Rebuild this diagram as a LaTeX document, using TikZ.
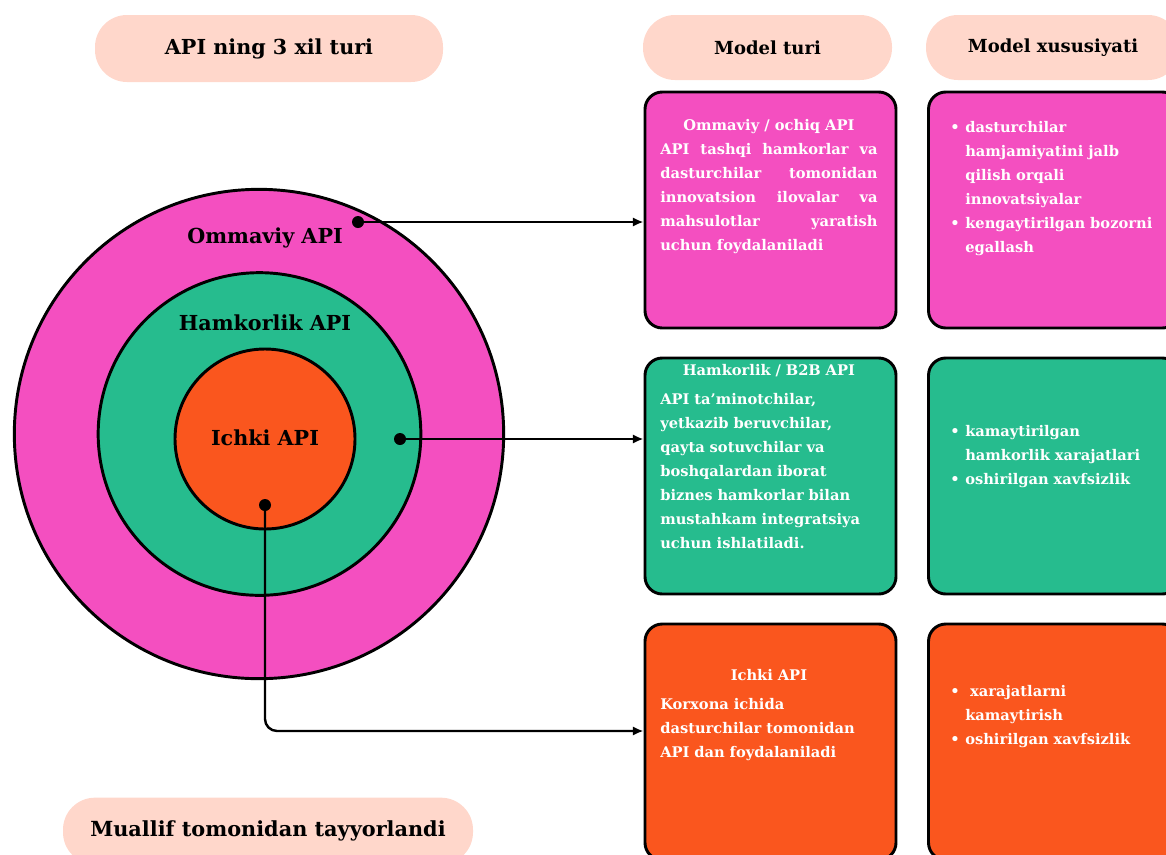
\documentclass[tikz,border=0pt]{standalone}
\usepackage{fontspec}
\setmainfont{DejaVu Serif}
\usepackage{color}
\usetikzlibrary{arrows.meta}
\setlength{\parindent}{0pt}

\definecolor{pinkapi}{HTML}{F44FC0}
\definecolor{greenapi}{HTML}{26BC8E}
\definecolor{orangeapi}{HTML}{FA561E}
\definecolor{pillbg}{HTML}{FFD7CB}

% one bullet line with hanging indent
\newcommand{\bulletline}[1]{\par\hangindent=11.25pt\hangafter=1\makebox[11.25pt][l]{\textbullet}#1\par}

\begin{document}
\begin{tikzpicture}[x=0.75pt,y=-0.75pt,
  pill/.style={fill=pillbg, rounded corners=24pt, font=\bfseries},
  card/.style={draw=black, line width=2.2pt, rounded corners=13pt, minimum width=188.25pt, minimum height=177pt},
  ring/.style={circle, draw=black, line width=2.2pt},
  ringlabel/.style={font=\bfseries\fontsize{15.5}{18}\selectfont},
  cardtext/.style={text=white, inner sep=0pt, anchor=north west, font=\bfseries\fontsize{11}{18}\selectfont},
  dot/.style={circle, fill=black, inner sep=0pt, minimum size=9pt},
  link/.style={line width=1.8pt, -{Latex[length=8pt,width=7pt]}}]
\useasboundingbox (0,0) rectangle (1166,854);
\clip (0,0) rectangle (1166,854);

% headers
\node[pill, minimum width=261pt, minimum height=50.25pt, font=\bfseries\fontsize{15.5}{18}\selectfont] (title) at (269,48.5) {API ning 3 xil turi};
\node[pill, minimum width=186.75pt, minimum height=48.75pt, font=\bfseries\fontsize{13.5}{15}\selectfont] (headType) at (767.5,47.5) {Model turi};
\node[pill, minimum width=190.5pt, minimum height=48.75pt, font=\bfseries\fontsize{13.5}{15}\selectfont] (headProp) at (1053,47.5) {Model xususiyati};
\node[pill, minimum width=307.5pt, minimum height=50pt, font=\bfseries\fontsize{15.6}{18}\selectfont] (author) at (268,831) {Muallif tomonidan tayyorlandi};

% circles
\node[ring, fill=pinkapi, minimum size=367pt] (outer) at (259,434) {};
\node[ring, fill=greenapi, minimum size=242pt] (middle) at (259.5,434) {};
\node[ring, fill=orangeapi, minimum size=135pt] (inner) at (265,439) {};
\node[ringlabel] (lblOuter) at (265,238) {Ommaviy API};
\node[ringlabel] (lblMiddle) at (265,323) {Hamkorlik API};
\node[ringlabel] (lblInner) at (265,438) {Ichki API};

% cards
\node[card, fill=pinkapi] (cardA) at (770.5,210) {};
\node[card, fill=greenapi] (cardB) at (770.5,476) {};
\node[card, fill=orangeapi] (cardC) at (770.5,742) {};
\node[card, fill=pinkapi] (propA) at (1054,210) {};
\node[card, fill=greenapi] (propB) at (1054,476) {};
\node[card, fill=orangeapi] (propC) at (1054,742) {};

\node[cardtext, text width=163pt, align=justify] (txtA) at (660,119) {{\centering Ommaviy / ochiq API\par}
API tashqi hamkorlar va\linebreak dasturchilar tomonidan\linebreak innovatsion ilovalar va\linebreak mahsulotlar yaratish\linebreak uchun foydalaniladi\par};
\node[cardtext, text width=163pt] (txtB) at (660,364) {{\centering Hamkorlik / B2B API\par}\vspace{4pt}
\raggedright API ta’minotchilar,\newline yetkazib beruvchilar,\newline qayta sotuvchilar va\newline boshqalardan iborat\newline biznes hamkorlar bilan\newline mustahkam integratsiya\newline uchun ishlatiladi.};
\node[cardtext, text width=163pt] (txtC) at (660,669) {{\centering Ichki API\par}\vspace{4pt}
\raggedright Korxona ichida\newline dasturchilar tomonidan\newline API dan foydalaniladi};

\node[cardtext, text width=165pt] (featA) at (950,108) {\raggedright\bulletline{dasturchilar\newline hamjamiyatini jalb\newline qilish orqali\newline innovatsiyalar}
\bulletline{kengaytirilgan bozorni\newline egallash}};
\node[cardtext, text width=165pt] (featB) at (950,412) {\raggedright\bulletline{kamaytirilgan\newline hamkorlik xarajatlari}
\bulletline{oshirilgan xavfsizlik}};
\node[cardtext, text width=165pt] (featC) at (950,672) {\raggedright\bulletline{\ xarajatlarni\newline kamaytirish}
\bulletline{oshirilgan xavfsizlik}};

% dots and links
\node[dot] (dotA) at (358,222) {};
\node[dot] (dotB) at (400,439) {};
\node[dot] (dotC) at (265,505) {};
\coordinate (turnC) at (265,731);
\draw[link] (dotA.center) -- (dotA.center -| cardA.west);
\draw[link] (dotB.center) -- (dotB.center -| cardB.west);
\draw[link, rounded corners=9pt] (dotC.center) -- (turnC) -- (turnC -| cardC.west);
\end{tikzpicture}
\end{document}
